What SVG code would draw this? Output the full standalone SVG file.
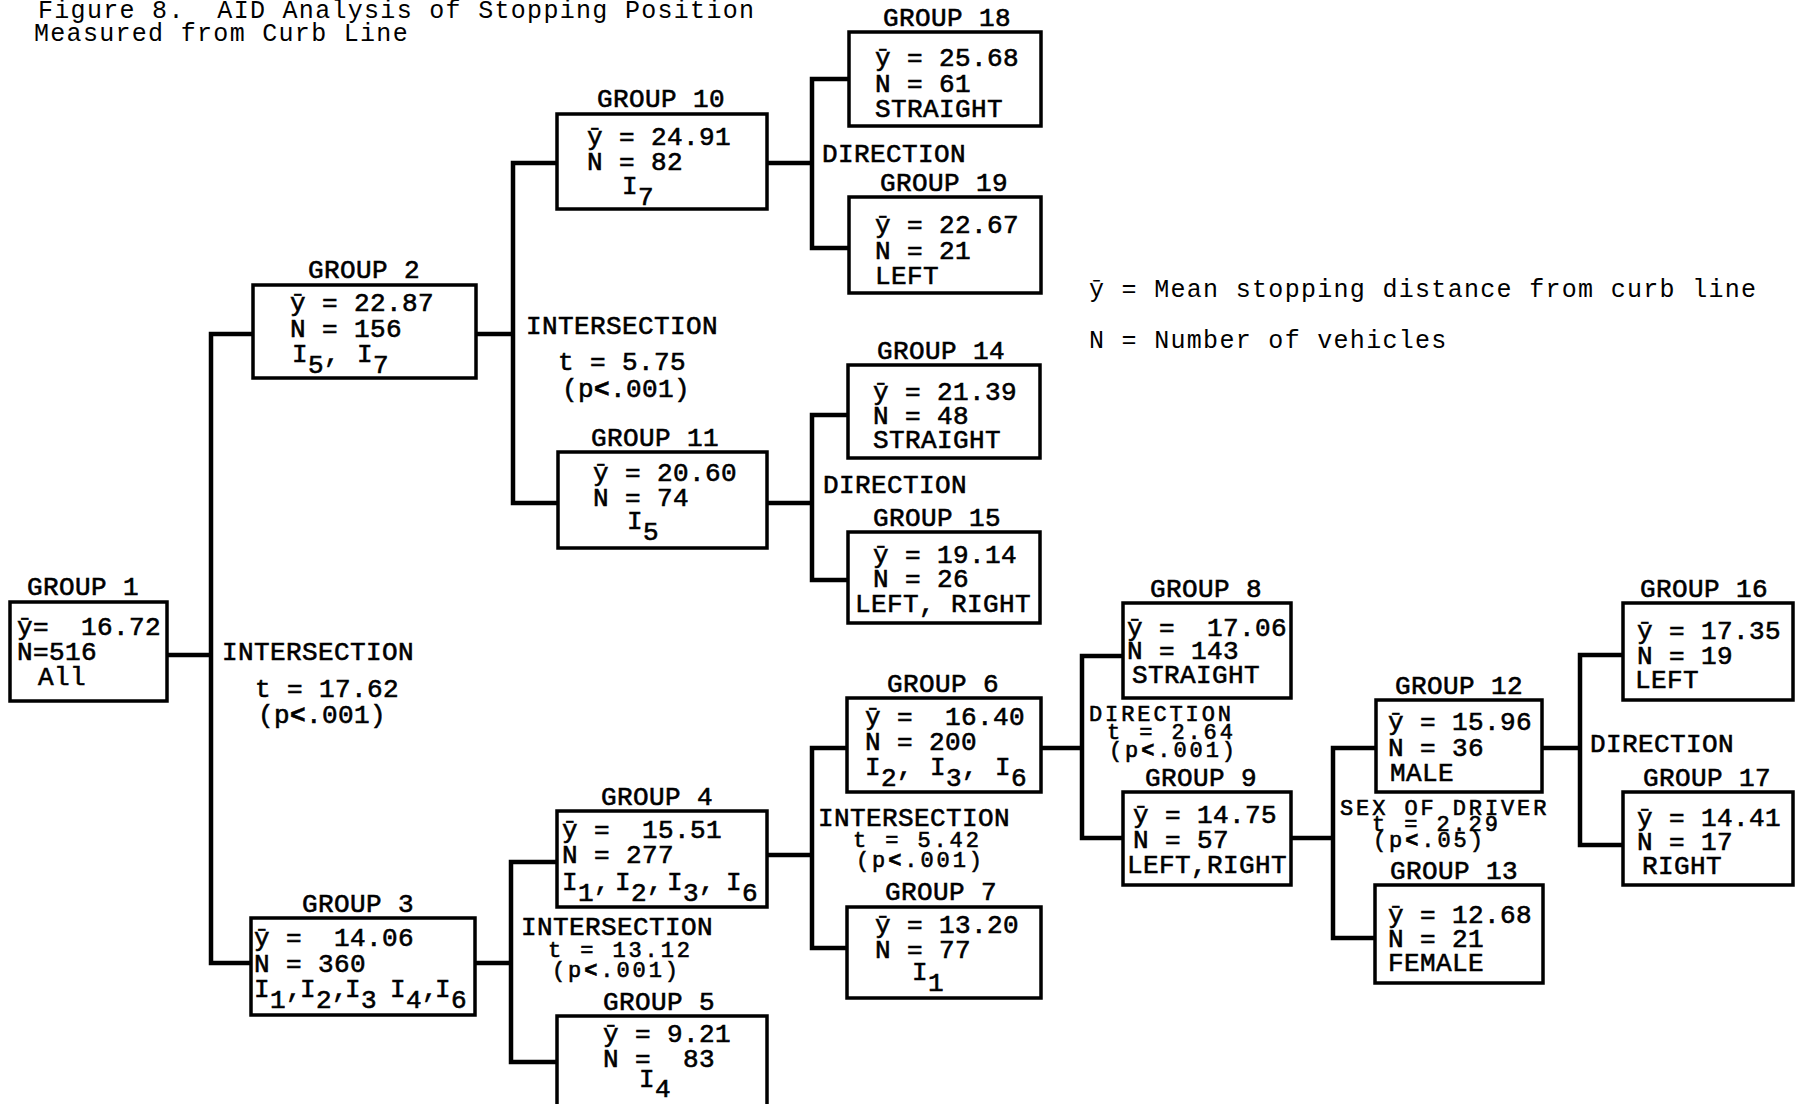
<svg xmlns="http://www.w3.org/2000/svg" width="1798" height="1104" viewBox="0 0 1798 1104" xml:space="preserve">
<style>
.t{font-family:"Liberation Mono","DejaVu Sans Mono",monospace;font-size:26px;letter-spacing:0.4px;fill:#000;stroke:#000;stroke-width:0.6px;white-space:pre}
.ts{font-family:"Liberation Mono","DejaVu Sans Mono",monospace;font-size:22px;letter-spacing:2.9px;fill:#000;stroke:#000;stroke-width:0.6px;white-space:pre}
.cap{font-family:"Liberation Mono","DejaVu Sans Mono",monospace;font-size:25px;letter-spacing:1.3px;fill:#000;white-space:pre}
.box{fill:#fff;stroke:#000;stroke-width:3.5px}
.ln{fill:none;stroke:#000;stroke-width:4.5px;stroke-linejoin:miter}
.lt{font-weight:bold}
</style>
<rect width="1798" height="1104" fill="#fff"/>
<g id="title">
<text class="cap" x="38" y="18">Figure 8.  AID Analysis of Stopping Position</text>
<text class="cap" x="34" y="41">Measured from Curb Line</text>
</g>
<g id="legend">
<text class="cap" x="1089" y="297">ȳ = Mean stopping distance from curb line</text>
<text class="cap" x="1089" y="348">N = Number of vehicles</text>
</g>
<g id="connectors">
<path class="ln" d="M167 655 H211 M253 334 H211 V963 H251"/>
<path class="ln" d="M476 334 H513 M557 163 H513 V503 H558"/>
<path class="ln" d="M767 163 H812 M849 79 H812 V248 H849"/>
<path class="ln" d="M767 503 H812 M848 415 H812 V580 H848"/>
<path class="ln" d="M475 963 H511 M557 862 H511 V1062 H557"/>
<path class="ln" d="M767 855 H812 M847 748 H812 V948 H847"/>
<path class="ln" d="M1041 748 H1082 M1123 656 H1082 V838 H1123"/>
<path class="ln" d="M1291 838 H1333 M1376 748 H1333 V938 H1375"/>
<path class="ln" d="M1542 748 H1580 M1623 655 H1580 V845 H1623"/>
</g>
<g id="splits">
<text class="t" x="222" y="660">INTERSECTION</text>
<text class="t" x="255" y="697">t = 17.62</text>
<text class="t" x="258" y="723">(p<tspan class="lt">&lt;</tspan>.001)</text>
<text class="t" x="526" y="334">INTERSECTION</text>
<text class="t" x="558" y="370">t = 5.75</text>
<text class="t" x="562" y="397">(p<tspan class="lt">&lt;</tspan>.001)</text>
<text class="t" x="822" y="162">DIRECTION</text>
<text class="t" x="823" y="493">DIRECTION</text>
<text class="t" x="521" y="935">INTERSECTION</text>
<text class="ts" x="548" y="957">t = 13.12</text>
<text class="ts" x="552" y="977">(p<tspan class="lt">&lt;</tspan>.001)</text>
<text class="t" x="818" y="826">INTERSECTION</text>
<text class="ts" x="853" y="847">t = 5.42</text>
<text class="ts" x="856" y="867">(p<tspan class="lt">&lt;</tspan>.001)</text>
<text class="ts" x="1089" y="721">DIRECTION</text>
<text class="ts" x="1107" y="739">t = 2.64</text>
<text class="ts" x="1109" y="757">(p<tspan class="lt">&lt;</tspan>.001)</text>
<text class="ts" x="1340" y="815">SEX OF DRIVER</text>
<text class="ts" x="1372" y="831">t = 2.29</text>
<text class="ts" x="1373" y="847">(p<tspan class="lt">&lt;</tspan>.05)</text>
<text class="t" x="1590" y="752">DIRECTION</text>
</g>
<g id="group1">
<rect class="box" x="10" y="602" width="157" height="99"/>
<text class="t" x="27" y="595">GROUP 1</text>
<text class="t" x="17" y="635">ȳ=  16.72</text>
<text class="t" x="17" y="660">N=516</text>
<text class="t" x="38" y="685">All</text>
</g>
<g id="group2">
<rect class="box" x="253" y="285" width="223" height="93"/>
<text class="t" x="308" y="278">GROUP 2</text>
<text class="t" x="290" y="311">ȳ = 22.87</text>
<text class="t" x="290" y="337">N = 156</text>
<text class="t" x="292" y="362">I<tspan dy="11">5</tspan><tspan dy="-11">,</tspan><tspan x="357">I</tspan><tspan dy="11">7</tspan></text>
</g>
<g id="group10">
<rect class="box" x="557" y="114" width="210" height="95"/>
<text class="t" x="597" y="107">GROUP 10</text>
<text class="t" x="587" y="145">ȳ = 24.91</text>
<text class="t" x="587" y="170">N = 82</text>
<text class="t" x="622" y="194">I<tspan dy="11">7</tspan></text>
</g>
<g id="group18">
<rect class="box" x="849" y="32" width="192" height="94"/>
<text class="t" x="883" y="26">GROUP 18</text>
<text class="t" x="875" y="66">ȳ = 25.68</text>
<text class="t" x="875" y="92">N = 61</text>
<text class="t" x="875" y="117">STRAIGHT</text>
</g>
<g id="group19">
<rect class="box" x="849" y="197" width="192" height="96"/>
<text class="t" x="880" y="191">GROUP 19</text>
<text class="t" x="875" y="233">ȳ = 22.67</text>
<text class="t" x="875" y="259">N = 21</text>
<text class="t" x="875" y="284">LEFT</text>
</g>
<g id="group11">
<rect class="box" x="558" y="452" width="209" height="96"/>
<text class="t" x="591" y="446">GROUP 11</text>
<text class="t" x="593" y="481">ȳ = 20.60</text>
<text class="t" x="593" y="506">N = 74</text>
<text class="t" x="627" y="529">I<tspan dy="11">5</tspan></text>
</g>
<g id="group14">
<rect class="box" x="848" y="365" width="192" height="93"/>
<text class="t" x="877" y="359">GROUP 14</text>
<text class="t" x="873" y="400">ȳ = 21.39</text>
<text class="t" x="873" y="424">N = 48</text>
<text class="t" x="873" y="448">STRAIGHT</text>
</g>
<g id="group15">
<rect class="box" x="848" y="532" width="192" height="91"/>
<text class="t" x="873" y="526">GROUP 15</text>
<text class="t" x="873" y="563">ȳ = 19.14</text>
<text class="t" x="873" y="587">N = 26</text>
<text class="t" x="855" y="612">LEFT, RIGHT</text>
</g>
<g id="group3">
<rect class="box" x="251" y="918" width="224" height="97"/>
<text class="t" x="302" y="912">GROUP 3</text>
<text class="t" x="254" y="946">ȳ =  14.06</text>
<text class="t" x="254" y="972">N = 360</text>
<text class="t" x="254" y="997">I<tspan dy="11">1</tspan><tspan dy="-11">,</tspan><tspan x="300">I</tspan><tspan dy="11">2</tspan><tspan dy="-11">,</tspan><tspan x="345">I</tspan><tspan dy="11">3</tspan><tspan x="390" dy="-11">I</tspan><tspan dy="11">4</tspan><tspan dy="-11">,</tspan><tspan x="435">I</tspan><tspan dy="11">6</tspan></text>
</g>
<g id="group4">
<rect class="box" x="557" y="811" width="210" height="96"/>
<text class="t" x="601" y="805">GROUP 4</text>
<text class="t" x="562" y="838">ȳ =  15.51</text>
<text class="t" x="562" y="863">N = 277</text>
<text class="t" x="562" y="890">I<tspan dy="11">1</tspan><tspan dy="-11">,</tspan><tspan x="615">I</tspan><tspan dy="11">2</tspan><tspan dy="-11">,</tspan><tspan x="667">I</tspan><tspan dy="11">3</tspan><tspan dy="-11">,</tspan><tspan x="726">I</tspan><tspan dy="11">6</tspan></text>
</g>
<g id="group5">
<rect class="box" x="557" y="1016" width="210" height="100"/>
<text class="t" x="603" y="1010">GROUP 5</text>
<text class="t" x="603" y="1042">ȳ = 9.21</text>
<text class="t" x="603" y="1067">N =  83</text>
<text class="t" x="639" y="1087">I<tspan dy="10">4</tspan></text>
</g>
<g id="group6">
<rect class="box" x="847" y="698" width="194" height="94"/>
<text class="t" x="887" y="692">GROUP 6</text>
<text class="t" x="865" y="725">ȳ =  16.40</text>
<text class="t" x="865" y="750">N = 200</text>
<text class="t" x="865" y="775">I<tspan dy="11">2</tspan><tspan dy="-11">,</tspan><tspan x="930">I</tspan><tspan dy="11">3</tspan><tspan dy="-11">,</tspan><tspan x="995">I</tspan><tspan dy="11">6</tspan></text>
</g>
<g id="group7">
<rect class="box" x="847" y="907" width="194" height="91"/>
<text class="t" x="885" y="900">GROUP 7</text>
<text class="t" x="875" y="933">ȳ = 13.20</text>
<text class="t" x="875" y="958">N = 77</text>
<text class="t" x="912" y="980">I<tspan dy="11">1</tspan></text>
</g>
<g id="group8">
<rect class="box" x="1123" y="603" width="168" height="95"/>
<text class="t" x="1150" y="597">GROUP 8</text>
<text class="t" x="1127" y="636">ȳ =  17.06</text>
<text class="t" x="1127" y="659">N = 143</text>
<text class="t" x="1132" y="683">STRAIGHT</text>
</g>
<g id="group9">
<rect class="box" x="1123" y="792" width="168" height="93"/>
<text class="t" x="1145" y="786">GROUP 9</text>
<text class="t" x="1133" y="823">ȳ = 14.75</text>
<text class="t" x="1133" y="848">N = 57</text>
<text class="t" x="1127" y="873">LEFT,RIGHT</text>
</g>
<g id="group12">
<rect class="box" x="1376" y="700" width="166" height="92"/>
<text class="t" x="1395" y="694">GROUP 12</text>
<text class="t" x="1388" y="730">ȳ = 15.96</text>
<text class="t" x="1388" y="756">N = 36</text>
<text class="t" x="1390" y="781">MALE</text>
</g>
<g id="group13">
<rect class="box" x="1375" y="885" width="168" height="98"/>
<text class="t" x="1390" y="879">GROUP 13</text>
<text class="t" x="1388" y="923">ȳ = 12.68</text>
<text class="t" x="1388" y="947">N = 21</text>
<text class="t" x="1388" y="971">FEMALE</text>
</g>
<g id="group16">
<rect class="box" x="1623" y="603" width="170" height="97"/>
<text class="t" x="1640" y="597">GROUP 16</text>
<text class="t" x="1637" y="639">ȳ = 17.35</text>
<text class="t" x="1637" y="664">N = 19</text>
<text class="t" x="1635" y="688">LEFT</text>
</g>
<g id="group17">
<rect class="box" x="1623" y="792" width="170" height="93"/>
<text class="t" x="1643" y="786">GROUP 17</text>
<text class="t" x="1637" y="826">ȳ = 14.41</text>
<text class="t" x="1637" y="850">N = 17</text>
<text class="t" x="1642" y="874">RIGHT</text>
</g>
</svg>
